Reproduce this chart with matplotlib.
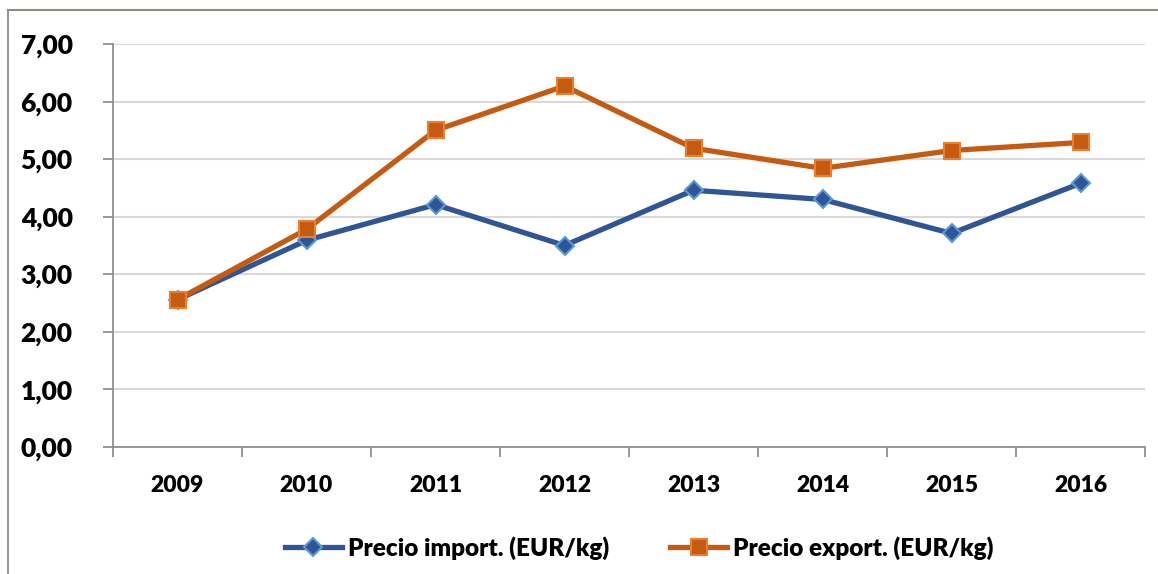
import matplotlib
matplotlib.use('Agg')
import matplotlib.pyplot as plt
from matplotlib.lines import Line2D

# Datos
anios = ['2009', '2010', '2011', '2012', '2013', '2014', '2015', '2016']
precio_import = [2.56, 3.59, 4.21, 3.50, 4.46, 4.30, 3.71, 4.58]
precio_export = [2.56, 3.78, 5.50, 6.27, 5.19, 4.84, 5.15, 5.29]
etiquetas_y = ['0,00', '1,00', '2,00', '3,00', '4,00', '5,00', '6,00', '7,00']


def main():
    plt.rcParams['font.family'] = ['Lato', 'DejaVu Sans']
    plt.rcParams['font.weight'] = 'heavy'

    fig = plt.figure(figsize=(11.58, 5.74), dpi=100)
    ax = fig.add_axes([113 / 1158, 1 - 447 / 574, (1145 - 113) / 1158, (447 - 44) / 574])

    x = list(range(len(anios)))
    ax.plot(x, precio_import, color='#2F5597', linewidth=3.8, marker='D', markersize=9,
            markerfacecolor='#2F5597', markeredgecolor='#5B9BD5', markeredgewidth=1.5,
            label='Precio import. (EUR/kg)', zorder=3)
    ax.plot(x, precio_export, color='#C55A11', linewidth=3.8, marker='s', markersize=11.5,
            markerfacecolor='#C55A11', markeredgecolor='#ED7D31', markeredgewidth=1.5,
            label='Precio export. (EUR/kg)', zorder=4)

    ax.set_xlim(-0.5, len(anios) - 0.5)
    ax.set_ylim(0, 7)
    ax.set_xticks(x)
    ax.set_xticklabels(anios, fontsize=16.5, fontweight='heavy')
    ax.set_xticks([i - 0.5 for i in range(len(anios) + 1)], minor=True)
    ax.set_yticks(range(8))
    ax.set_yticklabels(etiquetas_y, fontsize=19, fontweight='heavy')

    ax.tick_params(axis='x', which='major', length=0, pad=20)
    ax.tick_params(axis='x', which='minor', length=7, width=1.3, color='#909090', direction='out')
    ax.tick_params(axis='y', length=7, width=1.3, color='#909090', direction='out', pad=22)

    ax.grid(axis='y', color='#D9D9D9', linewidth=1.5)
    ax.set_axisbelow(True)
    for lado in ['top', 'right']:
        ax.spines[lado].set_visible(False)
    ax.spines['left'].set_color('#909090')
    ax.spines['bottom'].set_color('#909090')
    ax.spines['left'].set_linewidth(1.3)
    ax.spines['bottom'].set_linewidth(1.3)

    fig.legend(loc='center', bbox_to_anchor=(0.552, 1 - 548 / 574), ncol=2, frameon=False,
               prop={'size': 17.5, 'weight': 'heavy'}, handlelength=2.35, columnspacing=2.5,
               handletextpad=0.25)

    # Borde de la figura
    fig.add_artist(Line2D([8 / 1158, 8 / 1158], [0, 1 - 10 / 574], color='#8C8C8C', linewidth=1.3))
    fig.add_artist(Line2D([8 / 1158, 1], [1 - 10 / 574, 1 - 10 / 574], color='#8C8C80', linewidth=1.5))

    fig.savefig('out.png', dpi=100)


if __name__ == '__main__':
    main()
